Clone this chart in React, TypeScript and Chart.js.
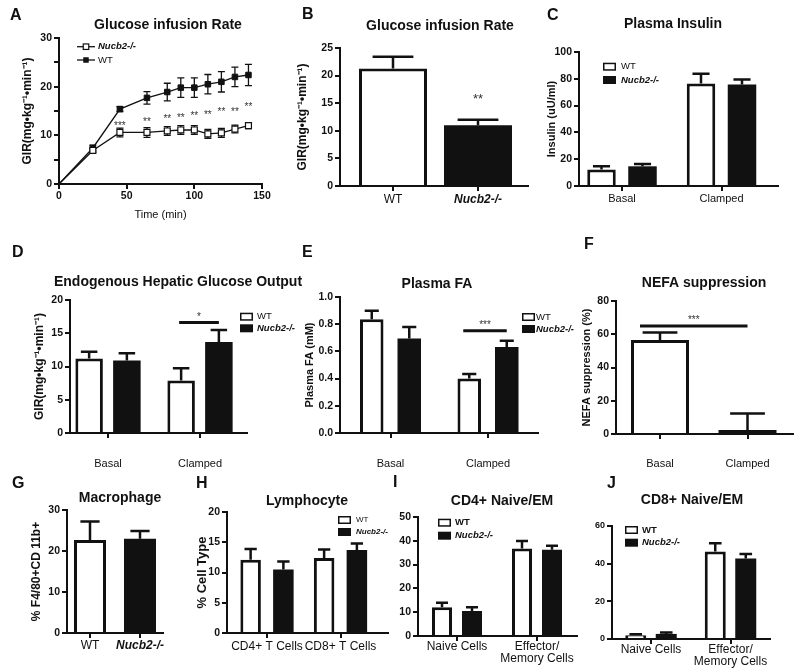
import React, { useEffect, useRef } from 'react';
import { Chart, registerables } from 'chart.js';

Chart.register(...registerables);

const FONT = '"Liberation Sans", Arial, Helvetica, sans-serif';
const INK = '#111111';
const STAR_INK = '#333333';
Chart.defaults.font.family = FONT;
Chart.defaults.color = INK;

const WT = 'WT';
const KO = 'Nucb2-/-';
const GIR_TITLE = 'GIR(mg•kg⁻¹•min⁻¹)';

// ---------- A: glucose infusion rate over time ----------
const timeMin = [0, 25, 45, 65, 80, 90, 100, 110, 120, 130, 140];
const girTimeWT = [0, 7.4, 15.4, 17.7, 18.9, 19.8, 19.8, 20.5, 21.0, 22.0, 22.4];
const girTimeWTErr = [0, 0.6, 0.5, 1.3, 1.8, 2.0, 2.0, 2.0, 2.1, 2.0, 2.2];
const girTimeKO = [0, 6.9, 10.6, 10.6, 10.9, 11.1, 11.1, 10.3, 10.5, 11.3, 12.0];
const girTimeKOErr = [0, 0.4, 0.9, 1.0, 0.9, 0.9, 0.9, 0.9, 0.9, 0.8, 0.6];
const girTimeStarT = [45, 65, 80, 90, 100, 110, 120, 130, 140];
const girTimeStarY = [12.5, 13.3, 13.9, 14.2, 14.6, 14.8, 15.3, 15.3, 16.4];
const girTimeStarText = ['***', '**', '**', '**', '**', '**', '**', '**', '**'];
const girTimeYAxis = [0, 30, 5];
const girTimeXAxis = [0, 150, 50];

// ---------- B: mean GIR ----------
const girGroups = [WT, KO];
const girMean = [21.3, 11.0];
const girErr = [2.1, 1.0];
const girStarY = 16.4;
const girAxis = [0, 25, 5];

// ---------- C: plasma insulin ----------
const clampCats = ['Basal', 'Clamped'];
const insulinWT = [12.4, 76.4];
const insulinWTErr = [2.3, 7.4];
const insulinKO = [14.7, 75.7];
const insulinKOErr = [1.7, 3.7];
const insulinAxis = [0, 100, 20];

// ---------- D: hepatic glucose output ----------
const hgoWT = [11.2, 7.9];
const hgoWTErr = [1.0, 1.85];
const hgoKO = [10.9, 13.7];
const hgoKOErr = [1.1, 1.8];
const hgoSig = [16.6, 17.9];
const hgoAxis = [0, 20, 5];

// ---------- E: plasma FA ----------
const faWT = [0.837, 0.4];
const faWTErr = [0.061, 0.034];
const faKO = [0.695, 0.632];
const faKOErr = [0.085, 0.046];
const faSig = [0.751, 0.817];
const faAxis = [0, 1, 0.2];

// ---------- F: NEFA suppression ----------
const nefaMean = [56.5, 2.4];
const nefaErr = [4.5, 10.0];
const nefaSig = [65, 70];
const nefaAxis = [0, 80, 20];

// ---------- G: macrophage ----------
const macMean = [22.7, 23.0];
const macErr = [4.5, 1.9];
const macAxis = [0, 30, 10];

// ---------- H: lymphocyte ----------
const lymCats = ['CD4+ T Cells', 'CD8+ T Cells'];
const lymWT = [12.1, 12.4];
const lymWTErr = [1.8, 1.4];
const lymKO = [10.5, 13.7];
const lymKOErr = [1.3, 1.1];
const lymAxis = [0, 20, 5];

// ---------- I / J: naive vs effector memory ----------
const naiveEmCats = ['Naive Cells', ['Effector/', 'Memory Cells']];
const cd4WT = [12.1, 36.8];
const cd4WTErr = [1.9, 3.1];
const cd4KO = [10.5, 36.2];
const cd4KOErr = [1.6, 1.7];
const cd4Axis = [0, 50, 10];
const cd8WT = [2.0, 46.4];
const cd8WTErr = [0.5, 4.4];
const cd8KO = [2.7, 42.8];
const cd8KOErr = [0.8, 2.3];
const cd8Axis = [0, 60, 20];

// ---------- panel layout specs ----------
const specA = {
  kind: 'line', letter: 'A', letterAt: [10, 15.5], title: 'Glucose infusion Rate', titleAt: [168, 25],
  box: [59, 38, 262, 184], axis: girTimeYAxis, xAxis: girTimeXAxis,
  yTitle: GIR_TITLE, yTitleX: 28, yTitleSize: 12,
  yFmt: (v: number) => (v % 10 === 0 ? String(v) : ''),
  xTitle: 'Time (min)', xTitleY: 215,
  legend: { kind: 'line', boxX: 77, textX: 98, rows: [46.7, 60], size: 9.5 },
};
const specB = {
  kind: 'bar', letter: 'B', letterAt: [302, 15], title: 'Glucose infusion Rate', titleAt: [440, 26],
  box: [340, 48, 528, 186], axis: girAxis, yTitle: GIR_TITLE, yTitleX: 303, yTitleSize: 12,
  cats: girGroups, sets: [{ label: 'GIR', data: girMean, err: girErr, white: [true, false] }],
  centers: [393, 478], barW: 68, xFont: 12, xPad: 1,
  stars: [{ at: [0, 1], y: girStarY, text: '**', size: 13 }],
};
const specC = {
  kind: 'bar', letter: 'C', letterAt: [547, 15.5], title: 'Plasma Insulin', titleAt: [673, 24],
  box: [579, 52, 778, 186], axis: insulinAxis, yTitle: 'Insulin (uU/ml)', yTitleX: 552, yTitleSize: 11,
  cats: clampCats,
  sets: [
    { label: WT, data: insulinWT, err: insulinWTErr, white: true },
    { label: KO, data: insulinKO, err: insulinKOErr, white: false },
  ],
  centers: [622, 721.5], chunk: 41, barW: 28.5, xFont: 11, xPad: 1,
  legend: { boxX: 603, textX: 621, rows: [66.7, 80], size: 9.5 },
};
const specD = {
  kind: 'bar', letter: 'D', letterAt: [12, 253], title: 'Endogenous Hepatic Glucose Output', titleAt: [178, 282.5],
  box: [70, 300, 247, 433], axis: hgoAxis, yTitle: GIR_TITLE, yTitleX: 40, yTitleSize: 12,
  cats: clampCats,
  sets: [
    { label: WT, data: hgoWT, err: hgoWTErr, white: true },
    { label: KO, data: hgoKO, err: hgoKOErr, white: false },
  ],
  centers: [108, 200], chunk: 37.75, barW: 27.5, xFont: 11, xPad: 19, xh: 45,
  legend: { boxX: 240, textX: 257, rows: [316.7, 328.3], size: 9.5 },
  sigs: [{ a: [0, 1], b: [1, 1], y: hgoSig[0], starY: hgoSig[1], text: '*', extL: 2 }],
};
const specE = {
  kind: 'bar', letter: 'E', letterAt: [302, 253], title: 'Plasma FA', titleAt: [437, 284],
  box: [340, 297, 538, 433], axis: faAxis, yTitle: 'Plasma FA (mM)', yTitleX: 310, yTitleSize: 11,
  yFmt: (v: number) => Number(v).toFixed(1),
  cats: clampCats,
  sets: [
    { label: WT, data: faWT, err: faWTErr, white: true },
    { label: KO, data: faKO, err: faKOErr, white: false },
  ],
  centers: [390.5, 488], chunk: 37.5, barW: 23.5, xFont: 11, xPad: 19, xh: 45,
  legend: { boxX: 522, textX: 536, rows: [317, 329], size: 9.5 },
  sigs: [{ a: [0, 1], b: [1, 1], y: faSig[0], starY: faSig[1], text: '***', extL: 6 }],
};
const specF = {
  kind: 'bar', letter: 'F', letterAt: [584, 245], title: 'NEFA suppression', titleAt: [704, 283],
  box: [616, 301, 793, 434], axis: nefaAxis, yTitle: 'NEFA suppression (%)', yTitleX: 587, yTitleSize: 11,
  cats: clampCats, sets: [{ label: 'NEFA', data: nefaMean, err: nefaErr, white: [true, false] }],
  centers: [660, 747.5], barW: 58, xFont: 11, xPad: 18, xh: 45,
  sigs: [{ a: [0, 0], b: [0, 1], y: nefaSig[0], starY: nefaSig[1], text: '***', extL: 20 }],
};
const specG = {
  kind: 'bar', letter: 'G', letterAt: [12, 484], title: 'Macrophage', titleAt: [120, 498],
  box: [67, 510, 163, 633], axis: macAxis, yTitle: '% F4/80+CD 11b+', yTitleX: 37, yTitleSize: 12,
  cats: girGroups, sets: [{ label: 'Mac', data: macMean, err: macErr, white: [true, false] }],
  centers: [90, 140], barW: 32, xFont: 12, xPad: 0,
};
const specH = {
  kind: 'bar', letter: 'H', letterAt: [196, 484], title: 'Lymphocyte', titleAt: [307, 501],
  box: [227, 512, 388, 633], axis: lymAxis, yTitle: '% Cell Type', yTitleX: 202, yTitleSize: 13,
  cats: lymCats,
  sets: [
    { label: WT, data: lymWT, err: lymWTErr, white: true },
    { label: KO, data: lymKO, err: lymKOErr, white: false },
  ],
  centers: [267, 340.5], chunk: 32.75, barW: 20.5, xFont: 12, xPad: 1,
  legend: { boxX: 338, textX: 356, rows: [520, 532], size: 8 },
};
const specI = {
  kind: 'bar', letter: 'I', letterAt: [393, 483], title: 'CD4+ Naive/EM', titleAt: [502, 501.5],
  box: [418, 517, 577, 636], axis: cd4Axis,
  cats: naiveEmCats,
  sets: [
    { label: WT, data: cd4WT, err: cd4WTErr, white: true },
    { label: KO, data: cd4KO, err: cd4KOErr, white: false },
  ],
  centers: [457, 537], chunk: 30, barW: 20, xFont: 12, xLH: 1.0, xPad: 0,
  legend: { boxX: 438, textX: 455, rows: [522.7, 535.7], size: 9.5, wtBold: true },
};
const specJ = {
  kind: 'bar', letter: 'J', letterAt: [607, 484], title: 'CD8+ Naive/EM', titleAt: [692, 500],
  box: [612, 526, 770, 639], axis: cd8Axis, yTickSize: 9,
  cats: naiveEmCats,
  sets: [
    { label: WT, data: cd8WT, err: cd8WTErr, white: true },
    { label: KO, data: cd8KO, err: cd8KOErr, white: false },
  ],
  centers: [651, 730.5], chunk: 30.5, barW: 21, xFont: 12, xLH: 1.0, xPad: 0,
  legend: { boxX: 625, textX: 642, rows: [530, 542.7], size: 9.5, wtBold: true },
};

const SPECS: any[] = [specA, specB, specC, specD, specE, specF, specG, specH, specI, specJ];

// ---------- helpers ----------
const fnt = (size: number, weight = 'normal', style = 'normal', lineHeight = 1.2) => ({ family: FONT, size, weight, style, lineHeight });

function frame(spec: any) {
  const [L, T, R, B] = spec.box;
  const yLeft = spec.yTitle ? spec.yTitleX - (spec.yTitleSize * 1.2) / 2 : L - 34;
  const xBottom = spec.xTitle ? spec.xTitleY + 6.6 : Math.min(B + (spec.xh || 30), 670);
  return {
    padding: { left: yLeft, top: T, right: 800 - R, bottom: 670 - xBottom },
    yw: L - yLeft,
    xh: xBottom - B,
  };
}

const gridOpts = (offset = false) => ({
  display: true, drawOnChartArea: false, drawTicks: true, tickLength: 5, offset, color: INK, lineWidth: 2,
});
const borderOpts = { display: true, color: INK, width: 2 };

function yOpts(spec: any, fr: any) {
  const [min, max, step] = spec.axis;
  return {
    type: 'linear', min, max,
    afterFit: (s: any) => { s.width = fr.yw; },
    ticks: {
      stepSize: step, color: INK, padding: 2,
      font: fnt(spec.yTickSize || 10.5, 'bold'),
      callback: spec.yFmt || ((v: number) => String(v)),
    },
    grid: gridOpts(),
    border: borderOpts,
    title: spec.yTitle
      ? { display: true, text: spec.yTitle, font: fnt(spec.yTitleSize, 'bold'), color: INK, padding: 0 }
      : { display: false },
  };
}

function drawStar(ctx: CanvasRenderingContext2D, text: string, x: number, yVis: number, size: number) {
  ctx.font = `${size}px ${FONT}`;
  ctx.fillStyle = STAR_INK;
  ctx.textAlign = 'center';
  ctx.textBaseline = 'alphabetic';
  ctx.fillText(text, x, yVis + size * 0.58);
}

function drawErrors(chart: any, spec: any) {
  const ctx = chart.ctx as CanvasRenderingContext2D;
  const ys = chart.scales.y;
  ctx.save();
  ctx.strokeStyle = INK;
  ctx.lineCap = 'butt';
  chart.data.datasets.forEach((ds: any, di: number) => {
    const meta = chart.getDatasetMeta(di);
    meta.data.forEach((el: any, i: number) => {
      const raw = ds.data[i];
      const v = typeof raw === 'number' ? raw : raw.y;
      const e = ds.errors ? ds.errors[i] : 0;
      if (!e) return;
      if (spec.kind === 'line') {
        const yt = ys.getPixelForValue(v + e);
        const yb = ys.getPixelForValue(v - e);
        ctx.lineWidth = 1.3;
        ctx.beginPath();
        ctx.moveTo(el.x, yt); ctx.lineTo(el.x, yb);
        ctx.moveTo(el.x - 3.5, yt); ctx.lineTo(el.x + 3.5, yt);
        ctx.moveTo(el.x - 3.5, yb); ctx.lineTo(el.x + 3.5, yb);
        ctx.stroke();
      } else {
        const yt = ys.getPixelForValue(v + e);
        const cw = el.width * 0.6;
        ctx.lineWidth = 2.5;
        ctx.beginPath();
        ctx.moveTo(el.x, el.y); ctx.lineTo(el.x, yt);
        ctx.moveTo(el.x - cw / 2, yt); ctx.lineTo(el.x + cw / 2, yt);
        ctx.stroke();
      }
    });
  });
  ctx.restore();
}

function drawMarks(chart: any, spec: any) {
  const ctx = chart.ctx as CanvasRenderingContext2D;
  const ys = chart.scales.y;
  ctx.save();
  (spec.sigs || []).forEach((s: any) => {
    const ea = chart.getDatasetMeta(s.a[0]).data[s.a[1]];
    const eb = chart.getDatasetMeta(s.b[0]).data[s.b[1]];
    const x0 = ea.x - (s.extL || 0);
    const x1 = eb.x + (s.extR || 0);
    const y = ys.getPixelForValue(s.y);
    ctx.strokeStyle = INK;
    ctx.lineWidth = 3;
    ctx.beginPath(); ctx.moveTo(x0, y); ctx.lineTo(x1, y); ctx.stroke();
    drawStar(ctx, s.text, (x0 + x1) / 2, ys.getPixelForValue(s.starY), 10);
  });
  (spec.stars || []).forEach((s: any) => {
    const el = chart.getDatasetMeta(s.at[0]).data[s.at[1]];
    drawStar(ctx, s.text, el.x, ys.getPixelForValue(s.y), s.size || 11);
  });
  if (spec.kind === 'line') {
    const xs = chart.scales.x;
    girTimeStarT.forEach((t, i) => {
      drawStar(ctx, girTimeStarText[i], xs.getPixelForValue(t), ys.getPixelForValue(girTimeStarY[i]), 10);
    });
  }
  ctx.restore();
}

function drawText(chart: any, spec: any) {
  const ctx = chart.ctx as CanvasRenderingContext2D;
  ctx.save();
  ctx.fillStyle = INK;
  ctx.textBaseline = 'middle';
  ctx.textAlign = 'left';
  ctx.font = `bold 16px ${FONT}`;
  ctx.fillText(spec.letter, spec.letterAt[0], spec.letterAt[1]);
  ctx.textAlign = 'center';
  ctx.font = `bold 14px ${FONT}`;
  ctx.fillText(spec.title, spec.titleAt[0], spec.titleAt[1]);

  const lg = spec.legend;
  if (lg) {
    const size = lg.size || 9.5;
    chart.data.datasets.forEach((ds: any, i: number) => {
      const y = lg.rows[i];
      const isKO = ds.label === KO;
      if (lg.kind === 'line') {
        ctx.strokeStyle = INK;
        ctx.lineWidth = 1.3;
        ctx.beginPath(); ctx.moveTo(lg.boxX, y); ctx.lineTo(lg.boxX + 18, y); ctx.stroke();
        const s = 5.5;
        const cx = lg.boxX + 9;
        ctx.fillStyle = isKO ? '#ffffff' : INK;
        ctx.fillRect(cx - s / 2, y - s / 2, s, s);
        if (isKO) { ctx.lineWidth = 1.2; ctx.strokeRect(cx - s / 2, y - s / 2, s, s); }
      } else {
        const w = 13, h = 8;
        if (isKO) {
          ctx.fillStyle = INK;
          ctx.fillRect(lg.boxX, y - h / 2, w, h);
        } else {
          ctx.fillStyle = '#ffffff';
          ctx.fillRect(lg.boxX, y - h / 2, w, h);
          ctx.strokeStyle = INK;
          ctx.lineWidth = 1.5;
          ctx.strokeRect(lg.boxX + 0.75, y - h / 2 + 0.75, w - 1.5, h - 1.5);
        }
      }
      ctx.fillStyle = INK;
      ctx.textAlign = 'left';
      ctx.textBaseline = 'middle';
      ctx.font = isKO ? `italic bold ${size}px ${FONT}` : `${lg.wtBold ? 'bold ' : ''}${size}px ${FONT}`;
      ctx.fillText(ds.label, lg.textX, y);
    });
  }
  ctx.restore();
}

function decor(spec: any) {
  return {
    id: 'decor',
    beforeDatasetsDraw(chart: any) { if (spec.kind === 'line') drawErrors(chart, spec); },
    afterDatasetsDraw(chart: any) {
      if (spec.kind !== 'line') drawErrors(chart, spec);
      drawMarks(chart, spec);
    },
    afterDraw(chart: any) { drawText(chart, spec); },
  };
}

const baseOptions = (fr: any) => ({
  responsive: false,
  maintainAspectRatio: false,
  animation: false,
  events: [],
  layout: { padding: fr.padding },
  plugins: { legend: { display: false }, tooltip: { enabled: false }, title: { display: false } },
});

function lineConfig(spec: any) {
  const fr = frame(spec);
  const [xmin, xmax, xstep] = spec.xAxis;
  const radiusKO = timeMin.map((t) => (t === 0 ? 0 : 4.2));
  const radiusWT = timeMin.map((t) => (t === 0 ? 0 : 3.9));
  return {
    type: 'line',
    data: {
      datasets: [
        {
          label: KO, data: timeMin.map((t, i) => ({ x: t, y: girTimeKO[i] })), errors: girTimeKOErr,
          borderColor: INK, borderWidth: 1.3, tension: 0, fill: false,
          pointStyle: 'rect', pointRadius: radiusKO, pointBackgroundColor: '#ffffff',
          pointBorderColor: INK, pointBorderWidth: 1.2,
        },
        {
          label: WT, data: timeMin.map((t, i) => ({ x: t, y: girTimeWT[i] })), errors: girTimeWTErr,
          borderColor: INK, borderWidth: 1.3, tension: 0, fill: false,
          pointStyle: 'rect', pointRadius: radiusWT, pointBackgroundColor: INK,
          pointBorderColor: INK, pointBorderWidth: 1,
        },
      ],
    },
    options: {
      ...baseOptions(fr),
      scales: {
        x: {
          type: 'linear', min: xmin, max: xmax,
          afterFit: (s: any) => { s.height = fr.xh; },
          ticks: { stepSize: xstep, color: INK, padding: 1, font: fnt(10.5, 'bold'), maxRotation: 0 },
          grid: gridOpts(),
          border: borderOpts,
          title: { display: true, text: spec.xTitle, font: fnt(11), color: INK, padding: 0 },
        },
        y: yOpts(spec, fr),
      },
    },
    plugins: [decor(spec)],
  };
}

function barConfig(spec: any) {
  const fr = frame(spec);
  const [L, , R] = spec.box;
  const [c0, c1] = spec.centers;
  const d = c1 - c0;
  const n = spec.sets.length;
  const chunk = n === 1 ? spec.barW : spec.chunk;
  const fillOf = (w: boolean) => (w ? '#ffffff' : INK);
  const bwOf = (w: boolean) => (w ? 3 : 0);
  const datasets = spec.sets.map((s: any) => ({
    label: s.label,
    data: s.data,
    errors: s.err,
    backgroundColor: Array.isArray(s.white) ? s.white.map(fillOf) : fillOf(s.white),
    borderColor: INK,
    borderWidth: Array.isArray(s.white) ? s.white.map(bwOf) : bwOf(s.white),
    borderSkipped: 'start',
    categoryPercentage: (n * chunk) / d,
    barPercentage: spec.barW / chunk,
  }));
  const xs = spec.xFont || 11;
  const xlh = spec.xLH || 1.2;
  return {
    type: 'bar',
    data: { labels: spec.cats, datasets },
    options: {
      ...baseOptions(fr),
      scales: {
        x: {
          type: 'category',
          offset: true,
          afterBuildTicks: (s: any) => {
            s._startValue = -(c0 - L) / d;
            s._valueRange = (R - L) / d;
          },
          afterFit: (s: any) => { s.height = fr.xh; },
          ticks: {
            color: INK, padding: spec.xPad, maxRotation: 0, minRotation: 0, autoSkip: false,
            font: (c: any) => {
              const lab = c.chart.data.labels[c.index];
              return lab === KO ? fnt(xs, 'bold', 'italic', xlh) : fnt(xs, 'normal', 'normal', xlh);
            },
          },
          grid: gridOpts(false),
          border: borderOpts,
        },
        y: yOpts(spec, fr),
      },
    },
    plugins: [decor(spec)],
  };
}

function Panel({ spec }: { spec: any }) {
  const ref = useRef<HTMLCanvasElement | null>(null);
  useEffect(() => {
    if (!ref.current) return;
    const cfg: any = spec.kind === 'line' ? lineConfig(spec) : barConfig(spec);
    const chart = new Chart(ref.current, cfg);
    return () => chart.destroy();
  }, [spec]);
  return (
    <canvas
      ref={ref}
      width={800}
      height={670}
      style={{ position: 'absolute', left: 0, top: 0, width: 800, height: 670 }}
    />
  );
}

export default function App() {
  return (
    <div style={{ position: 'absolute', left: 0, top: 0, width: 800, height: 670, background: '#ffffff', overflow: 'hidden' }}>
      {SPECS.map((s) => (
        <Panel key={s.letter} spec={s} />
      ))}
    </div>
  );
}
